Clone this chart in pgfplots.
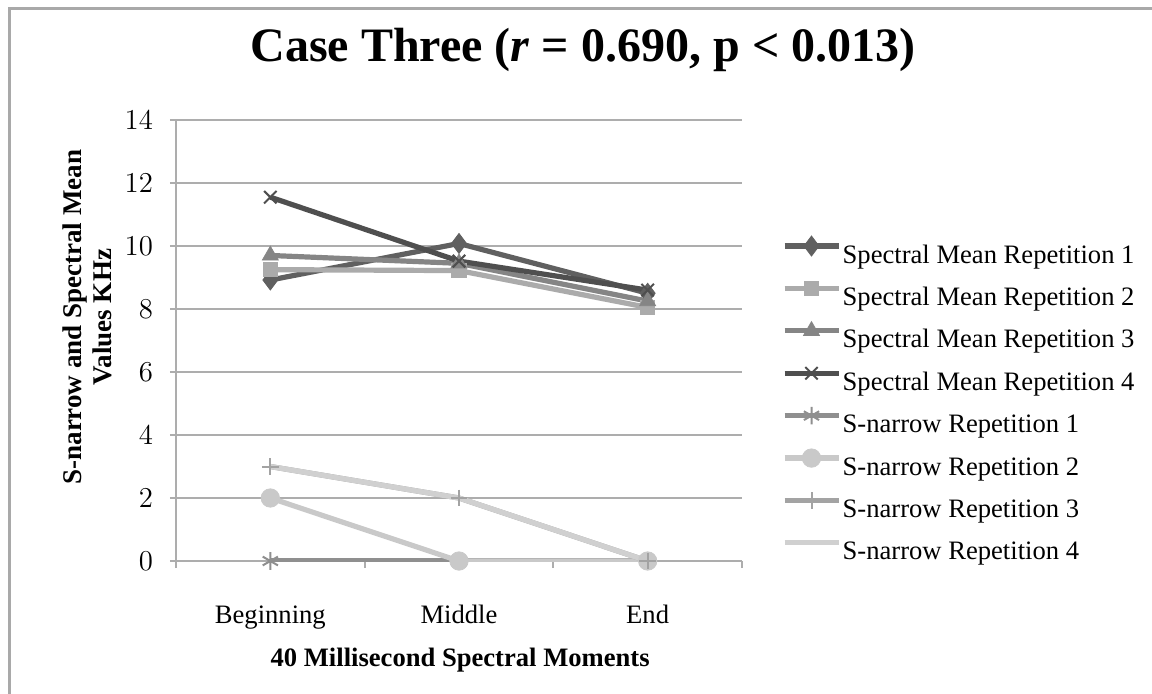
\documentclass[border=0pt]{standalone}
\usepackage{pgfplots}
\pgfplotsset{compat=1.18}
\usepackage{fontspec}
\setmainfont{Liberation Serif}
\definecolor{smA}{HTML}{606060}
\definecolor{smB}{HTML}{ABABAB}
\definecolor{smC}{HTML}{858585}
\definecolor{smD}{HTML}{4F4F4F}
\definecolor{snA}{HTML}{8F8F8F}
\definecolor{snB}{HTML}{C9C9C9}
\definecolor{snC}{HTML}{A3A3A3}
\definecolor{snD}{HTML}{D0D0D0}
\definecolor{gridGray}{HTML}{ADADAD}
\definecolor{frameGray}{HTML}{A9A9A9}
\begin{document}
\begin{tikzpicture}
\useasboundingbox (-88pt,-66pt) rectangle (488pt,280.5pt);
\draw[line width=1.5pt, color=frameGray] (-83.25pt,-80pt) -- (-83.25pt,276.25pt) -- (500pt,276.25pt);
\begin{axis}[
  at={(0,0)}, anchor=south west,
  scale only axis, width=283pt, height=220.5pt,
  xmin=-0.5, xmax=2.5, ymin=0, ymax=14,
  xtick={0,1,2}, xticklabels={Beginning,Middle,End},
  minor xtick={-0.5,0.5,1.5,2.5},
  ytick={0,2,4,6,8,10,12,14},
  axis x line*=bottom, axis y line*=left,
  axis line style={-, draw=gridGray, line width=1pt},
  ymajorgrids, grid style={gridGray, line width=1pt},
  tick style={gridGray, line width=1pt},
  tick align=outside,
  major x tick style={draw=none},
  major tick length=3pt, minor tick length=3.5pt,
  tick label style={font=\fontsize{13.3}{15}\selectfont},
  xticklabel style={anchor=base, yshift=-28pt},
  yticklabel style={anchor=east, xshift=-5pt},
  title={\textbf{Case Three (\textit{r} = 0.690, p < 0.013)}},
  title style={font=\fontsize{24}{28}\selectfont, at={(axis description cs:0.719,1.1315)}, anchor=center},
  xlabel={\textbf{40 Millisecond Spectral Moments}},
  xlabel style={font=\fontsize{13.3}{15}\selectfont, at={(axis description cs:0.502,-0.2245)}, anchor=center},
  ylabel={\textbf{S-narrow and Spectral Mean}\\\textbf{Values KHz}},
  ylabel style={font=\fontsize{13.5}{15}\selectfont, align=center, at={(axis description cs:-0.157,0.553)}, anchor=center, rotate=0},
  legend style={at={(axis description cs:1.0705,0.7164)}, anchor=north west, draw=none, fill=none, inner sep=0pt, outer sep=0pt,
    font=\fontsize{13.3}{15}\selectfont, row sep=9.2pt, column sep=0.8pt,
    nodes={inner sep=0pt, text height=9pt, text depth=3pt}},
  legend cell align=left,
  legend image code/.code={\path (0pt,0pt) (27pt,0pt);\draw[overlay,mark repeat=2,mark phase=2] plot coordinates {(0pt,5.5pt)(13.5pt,5.5pt)(27pt,5.5pt)};},
  every axis plot/.append style={line width=2.6pt},
]
\addplot[color=smA, mark=diamond*, mark size=5pt, mark options={solid,line width=0.4pt}] coordinates {(0,8.92) (1,10.08) (2,8.5)};
\addlegendentry{Spectral Mean Repetition 1}
\addplot[color=smB, mark=square*, mark size=3.6pt, mark options={solid,line width=0.4pt}] coordinates {(0,9.25) (1,9.22) (2,8.05)};
\addlegendentry{Spectral Mean Repetition 2}
\addplot[color=smC, mark=triangle*, mark size=4.6pt, mark options={solid,line width=0.4pt}] coordinates {(0,9.7) (1,9.45) (2,8.25)};
\addlegendentry{Spectral Mean Repetition 3}
\addplot[color=smD, mark=x, mark size=4.4pt, mark options={solid,line width=1pt}] coordinates {(0,11.55) (1,9.52) (2,8.6)};
\addlegendentry{Spectral Mean Repetition 4}
\addplot[color=snA, mark=asterisk, mark size=4.4pt, mark options={solid,line width=1pt}] coordinates {(0,0) (1,0) (2,0)};
\addlegendentry{S-narrow Repetition 1}
\addplot[color=snB, mark=*, mark size=4.6pt, mark options={solid,line width=0.4pt}] coordinates {(0,2) (1,0) (2,0)};
\addlegendentry{S-narrow Repetition 2}
\addplot[color=snC, mark=+, mark size=4.2pt, mark options={solid,line width=1pt}] coordinates {(0,3) (1,2) (2,0)};
\addlegendentry{S-narrow Repetition 3}
\addplot[color=snD, mark=none] coordinates {(0,3) (1,2) (2,0)};
\addlegendentry{S-narrow Repetition 4}
\end{axis}
\end{tikzpicture}
\end{document}
